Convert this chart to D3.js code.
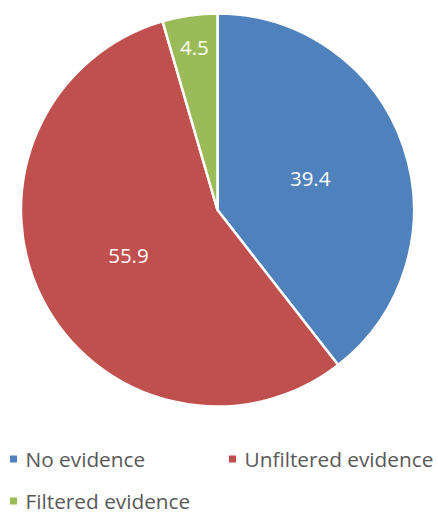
<!DOCTYPE html>
<html>
<head>
<meta charset="utf-8">
<script src="https://cdn.jsdelivr.net/npm/d3@7"></script>
<style>
  html, body { margin: 0; padding: 0; background: #fff; }
  svg { display: block; }
</style>
</head>
<body>
<svg id="chart" width="438" height="514"></svg>
<script>
// Share of cases by type of evidence (percent)
const categories = ["No evidence", "Unfiltered evidence", "Filtered evidence"];
const values = [39.4, 55.9, 4.5];
const colors = ["#4F81BD", "#C0504D", "#9BBB59"];
// Distance of each value label from the pie centre
const labelRadii = [98, 100, 164];

const svg = d3.select("#chart");
const cx = 217.5, cy = 210, radius = 196.5;
const fontFamily = "'Open Sans', 'Noto Sans', sans-serif";

const pie = d3.pie().sort(null).value(d => d)(values);
const arc = d3.arc().innerRadius(0).outerRadius(radius);

const g = svg.append("g").attr("transform", `translate(${cx},${cy})`);

g.selectAll("path.slice")
  .data(pie)
  .join("path")
  .attr("class", "slice")
  .attr("d", arc)
  .attr("fill", (d, i) => colors[i])
  .attr("stroke", "#fff")
  .attr("stroke-width", 2.5)
  .attr("stroke-linejoin", "round");

g.selectAll("text.value")
  .data(pie)
  .join("text")
  .attr("class", "value")
  .attr("transform", (d, i) => {
    const r = labelRadii[i];
    const c = d3.arc().innerRadius(r).outerRadius(r).centroid(d);
    return `translate(${c[0]},${c[1]})`;
  })
  .attr("text-anchor", "middle")
  .attr("dy", "0.36em")
  .attr("fill", "#fff")
  .attr("font-family", fontFamily)
  .attr("font-size", 20.5)
  .text(d => d.data.toFixed(1));

// Legend
const legendPos = [[10, 467], [229, 467], [10, 509]];
const legend = svg.selectAll("g.legend")
  .data(categories)
  .join("g")
  .attr("class", "legend")
  .attr("transform", (d, i) => `translate(${legendPos[i][0]},${legendPos[i][1]})`);

legend.append("rect")
  .attr("x", 0).attr("y", -11.5)
  .attr("width", 7).attr("height", 7)
  .attr("fill", (d, i) => colors[i]);

legend.append("text")
  .attr("x", 15.5)
  .attr("y", 0)
  .attr("fill", "#595959")
  .attr("font-family", fontFamily)
  .attr("font-size", 20.8)
  .text(d => d);
</script>
</body>
</html>
